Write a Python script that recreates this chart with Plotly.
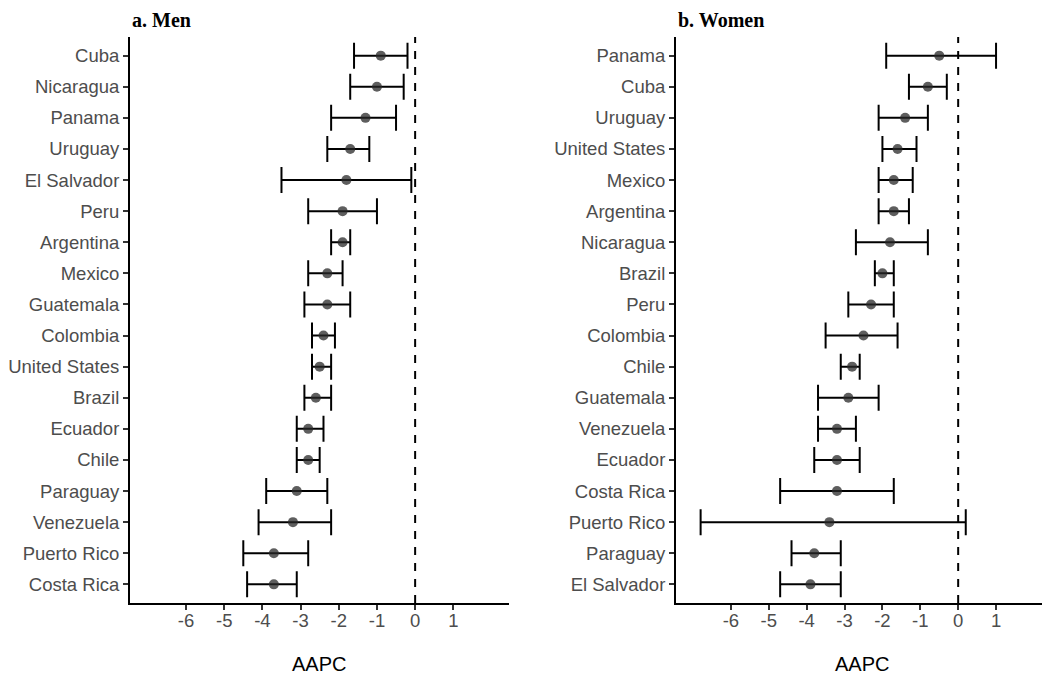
import plotly.graph_objects as go

# ---- Data: Men ----
men_countries = ["Cuba", "Nicaragua", "Panama", "Uruguay", "El Salvador", "Peru",
                 "Argentina", "Mexico", "Guatemala", "Colombia", "United States",
                 "Brazil", "Ecuador", "Chile", "Paraguay", "Venezuela",
                 "Puerto Rico", "Costa Rica"]
men_aapc = [-0.9, -1.0, -1.3, -1.7, -1.8, -1.9, -1.9, -2.3, -2.3, -2.4, -2.5,
            -2.6, -2.8, -2.8, -3.1, -3.2, -3.7, -3.7]
men_lo = [-1.6, -1.7, -2.2, -2.3, -3.5, -2.8, -2.2, -2.8, -2.9, -2.7, -2.7,
          -2.9, -3.1, -3.1, -3.9, -4.1, -4.5, -4.4]
men_hi = [-0.2, -0.3, -0.5, -1.2, -0.1, -1.0, -1.7, -1.9, -1.7, -2.1, -2.2,
          -2.2, -2.4, -2.5, -2.3, -2.2, -2.8, -3.1]

# ---- Data: Women ----
women_countries = ["Panama", "Cuba", "Uruguay", "United States", "Mexico",
                   "Argentina", "Nicaragua", "Brazil", "Peru", "Colombia",
                   "Chile", "Guatemala", "Venezuela", "Ecuador", "Costa Rica",
                   "Puerto Rico", "Paraguay", "El Salvador"]
women_aapc = [-0.5, -0.8, -1.4, -1.6, -1.7, -1.7, -1.8, -2.0, -2.3, -2.5,
              -2.8, -2.9, -3.2, -3.2, -3.2, -3.4, -3.8, -3.9]
women_lo = [-1.9, -1.3, -2.1, -2.0, -2.1, -2.1, -2.7, -2.2, -2.9, -3.5,
            -3.1, -3.7, -3.7, -3.8, -4.7, -6.8, -4.4, -4.7]
women_hi = [1.0, -0.3, -0.8, -1.1, -1.2, -1.3, -0.8, -1.7, -1.7, -1.6,
            -2.6, -2.1, -2.7, -2.6, -1.7, 0.2, -3.1, -3.1]

x_ticks = [-6, -5, -4, -3, -2, -1, 0, 1]
panel_titles = ["a. Men", "b. Women"]
x_title = "AAPC"

W, H = 1048, 676
fig = go.Figure()


def add_panel(countries, aapc, lo, hi, xa, ya):
    plus = [h - a for a, h in zip(aapc, hi)]
    minus = [a - l for a, l in zip(aapc, lo)]
    fig.add_trace(go.Scatter(
        x=aapc, y=countries, mode="markers",
        xaxis=xa, yaxis=ya, showlegend=False,
        marker=dict(size=10, color="rgba(40,40,40,0.75)", line=dict(width=0)),
        error_x=dict(type="data", symmetric=False, array=plus, arrayminus=minus,
                     color="black", thickness=2, width=13),
    ))


add_panel(men_countries, men_aapc, men_lo, men_hi, "x", "y")
add_panel(women_countries, women_aapc, women_lo, women_hi, "x2", "y2")

tick_font = dict(family="Liberation Sans, Arial", size=18.5, color="#4d4d4d")
ydom = [1 - 603 / H, 1 - 37 / H]

xcommon = dict(showgrid=False, zeroline=False, showline=True, linecolor="black",
               linewidth=2, ticks="outside", ticklen=5, tickwidth=1.5,
               tickcolor="#333333", tickvals=x_ticks, ticklabelstandoff=-5,
               ticktext=[str(v) for v in x_ticks], tickfont=tick_font)
ycommon = dict(showgrid=False, zeroline=False, showline=True, linecolor="black",
               linewidth=2, ticks="outside", ticklen=5, tickwidth=1.5,
               tickcolor="#333333", tickfont=tick_font, type="category",
               range=[17.6, -0.6], domain=ydom)

fig.update_layout(
    width=W, height=H,
    margin=dict(l=0, r=0, t=0, b=0),
    paper_bgcolor="white", plot_bgcolor="white",
    xaxis=dict(domain=[130 / W, 508.5 / W], range=[-7.467, 2.445], anchor="y", **xcommon),
    yaxis=dict(anchor="x", categoryorder="array", categoryarray=men_countries, **ycommon),
    xaxis2=dict(domain=[676 / W, 1041.5 / W], range=[-7.45, 2.2], anchor="y2", **xcommon),
    yaxis2=dict(anchor="x2", categoryorder="array", categoryarray=women_countries, **ycommon),
)

# dashed zero lines
for xr, yr in [("x", "y domain"), ("x2", "y2 domain")]:
    fig.add_shape(type="line", xref=xr, yref=yr, x0=0, x1=0, y0=0, y1=1,
                  line=dict(color="black", width=2, dash="8px,8px"))

# panel titles
for txt, xp in zip(panel_titles, [130, 676]):
    fig.add_annotation(text="<b>" + txt + "</b>", xref="paper", yref="paper",
                       x=xp / W, y=1 - 20 / H, xanchor="left", yanchor="middle",
                       showarrow=False,
                       font=dict(family="Liberation Serif, Times New Roman", size=20, color="black"))

# axis titles
for xc in [319, 862]:
    fig.add_annotation(text=x_title, xref="paper", yref="paper",
                       x=xc / W, y=0, xanchor="center", yanchor="bottom",
                       yshift=-1, showarrow=False,
                       font=dict(family="Liberation Sans, Arial", size=20, color="black"))

fig.write_html("out.html", config={"displayModeBar": False},
               post_script="document.body.style.margin='0px';document.body.style.overflow='hidden';")
